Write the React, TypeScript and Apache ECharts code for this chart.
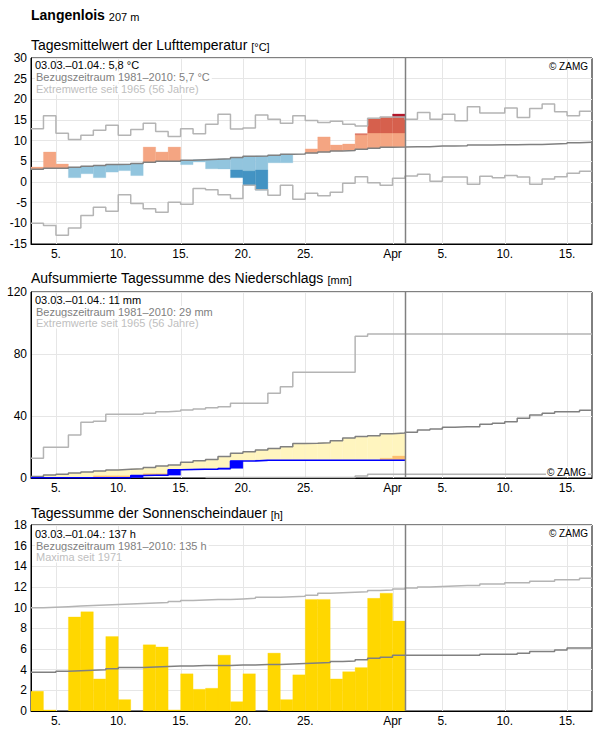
import React, { useEffect, useRef } from 'react';
import * as echarts from 'echarts';

const FONT = '"Liberation Sans", Arial, Helvetica, sans-serif';

// x axis: day index, 0 = 3 March ... 45 = 17 April (each day spans [d, d+1])
const X_MAX = 45;
const PERIOD_END = 30; // end of 1 April
const xTickDays = [2, 7, 12, 17, 22, 29, 33, 38, 43];
const xTickLabels = ['5.', '10.', '15.', '20.', '25.', 'Apr', '5.', '10.', '15.'];

// ---------- Temperature (°C) ----------
const tempNorm = [3.1, 3.3, 3.3, 3.55, 3.8, 4.0, 4.25, 4.3, 4.5, 4.75, 5.0, 5.0, 5.25, 5.4, 5.5, 5.6, 5.95, 6.2, 6.3, 6.5,
  6.7, 6.8, 7.0, 7.25, 7.5, 7.65, 7.9, 8.15, 8.4, 8.45, 8.55, 8.55, 8.7, 8.7, 8.75, 8.95, 8.95, 9.0, 9.0, 9.05,
  9.1, 9.2, 9.3, 9.5, 9.6];
const tempObs = [3.6, 7.25, 4.35, 1.05, 2.0, 1.05, 2.4, 2.75, 1.55, 8.45, 7.25, 8.45, 4.2, 4.85, 3.2, 3.15, 1.05, -0.75, -1.95, 4.65,
  4.65, 6.8, 8.0, 10.9, 8.95, 9.2, 11.7, 15.4, 15.65, 16.45];
const tempWarmLimit = [null, null, null, null, null, null, null, null, null, null, null, null, null, null, null, null, null, null, null, null,
  null, null, null, null, null, null, 11.45, 11.85, 11.85, 11.85];
const tempHotLimit = [null, null, null, null, null, null, null, null, null, null, null, null, null, null, null, null, null, null, null, null,
  null, null, null, null, null, null, null, null, null, 15.65];
const tempColdLimit = [null, null, null, null, null, null, null, null, null, null, null, null, null, null, null, null, 2.9, 2.65, 2.9, null,
  null, null, null, null, null, null, null, null, null, null];
const tempUpperExt = [12.9, 16.0, 11.8, 10.3, 11.3, 12.5, 13.7, 11.3, 12.7, 14.2, 12.2, 11.0, 12.9, 11.7, 14.0, 16.4, 12.8, 13.05, 16.2, 15.2,
  14.2, 16.0, 14.85, 14.4, 14.7, 13.95, 13.55, 15.4, 15.7, 15.7, 15.2, 16.8, 15.2, 16.4, 14.8, 18.2, 16.7, 16.7, 17.9, 15.6,
  17.8, 18.9, 17.0, 16.0, 17.1];
const tempLowerExt = [-10.0, -10.5, -12.9, -11.1, -8.1, -6.1, -7.1, -3.1, -5.2, -6.5, -7.3, -4.9, -5.4, -1.6, -1.9, -3.1, -4.0, -0.8, -1.9, -3.2,
  -0.8, -4.2, -2.7, -3.3, -2.5, -0.3, 1.3, -0.2, -0.8, 0.9, 1.45, 1.9, 0.17, 1.2, 1.2, -0.55, 1.4, 1.0, 1.6, 1.2,
  -0.55, 0.7, 1.3, 2.1, 2.6];

// ---------- Precipitation, cumulative (mm) ----------
const precipNorm = [0.9, 1.9, 2.4, 3.2, 3.9, 4.5, 5.2, 5.6, 6.0, 6.7, 7.7, 8.4, 10.1, 11.2, 12.0, 13.8, 15.9, 17.0, 18.1, 19.1,
  20.2, 22.2, 22.4, 22.8, 24.1, 25.8, 26.7, 27.3, 28.6, 29.0, 29.5, 31.0, 31.6, 32.7, 33.1, 33.1, 34.6, 35.3, 36.3, 38.5,
  40.6, 41.7, 42.8, 42.8, 43.7];
const precipObs = [0.2, 0.2, 0.2, 0.2, 0.2, 0.2, 0.2, 0.2, 1.6, 1.7, 1.8, 5.4, 5.5, 5.6, 5.6, 6.2, 11.0, 11.0, 11.4, 11.4,
  11.4, 11.4, 11.4, 11.4, 11.4, 11.4, 11.4, 11.4, 11.4, 11.4];
const precipDryLimit = [null, null, null, null, null, 1.4, 1.4, 1.4, null, 2.8, 2.8, null, null, null, null, null, null, null, null, null,
  null, null, null, null, null, null, null, null, 12.7, 14.2];
const precipUpperExt = [12.7, 19.8, 19.8, 27.7, 35.9, 36.6, 41.1, 41.1, 41.1, 41.7, 42.8, 43.2, 43.9, 44.5, 45.4, 46.0, 48.2, 48.2, 48.2, 54.6,
  58.9, 68.2, 68.2, 68.2, 68.2, 68.2, 91.4, 92.9, 92.9, 92.9, 92.9, 92.9, 92.9, 92.9, 92.9, 92.9, 92.9, 92.9, 92.9, 92.9,
  92.9, 92.9, 92.9, 92.9, 92.9];
const precipLowerExt = [null, null, null, null, null, null, null, null, null, null, null, null, null, null, 0.3, 0.3, 0.3, 0.3, 0.3, 0.3,
  0.3, 0.3, 0.3, 0.3, 0.3, 0.3, 1.3, 2.4, 2.4, 2.4, 2.4, 2.4, 2.4, 2.4, 2.4, 2.4, 2.4, 2.4, 2.4, 2.4,
  2.4, 2.4, 2.4, 2.4, 2.4];

// ---------- Sunshine (h) ----------
const sunObs = [1.9, 0.1, 0, 9.1, 9.6, 3.1, 7.2, 1.1, 0, 6.4, 6.2, 0.1, 3.6, 2.1, 2.2, 5.4, 0.9, 3.6, 0, 5.6,
  1.1, 3.5, 10.8, 10.8, 3.1, 3.8, 4.2, 10.9, 11.4, 8.7];
const sunNorm = [3.75, 3.75, 3.85, 3.9, 3.95, 4.0, 4.1, 4.2, 4.2, 4.25, 4.3, 4.35, 4.35, 4.4, 4.4, 4.4, 4.45, 4.45, 4.5, 4.5,
  4.55, 4.6, 4.65, 4.7, 4.8, 4.85, 4.95, 5.1, 5.2, 5.4, 5.4, 5.4, 5.4, 5.4, 5.4, 5.4, 5.5, 5.5, 5.5, 5.6,
  5.75, 5.75, 5.9, 6.1, 6.1];
const sunMax = [10.0, 10.05, 10.1, 10.15, 10.2, 10.25, 10.3, 10.35, 10.4, 10.45, 10.5, 10.6, 10.7, 10.75, 10.8, 10.8, 10.85, 10.9, 11.0, 11.0,
  11.05, 11.1, 11.2, 11.4, 11.45, 11.5, 11.55, 11.65, 11.7, 11.8, 11.9, 12.0, 12.05, 12.1, 12.15, 12.15, 12.3, 12.3, 12.4, 12.4,
  12.55, 12.55, 12.7, 12.7, 12.85];

// ---------- texts ----------
const header = 'Langenlois';
const headerSub = '207 m';
const panelTitles = [
  ['Tagesmittelwert der Lufttemperatur', '[°C]'],
  ['Aufsummierte Tagessumme des Niederschlags', '[mm]'],
  ['Tagessumme der Sonnenscheindauer', '[h]'],
];
const panelNotes = [
  ['03.03.–01.04.: 5,8 °C', 'Bezugszeitraum 1981–2010: 5,7 °C', 'Extremwerte seit 1965 (56 Jahre)'],
  ['03.03.–01.04.: 11 mm', 'Bezugszeitraum 1981–2010: 29 mm', 'Extremwerte seit 1965 (56 Jahre)'],
  ['03.03.–01.04.: 137 h', 'Bezugszeitraum 1981–2010: 135 h', 'Maxima seit 1971'],
];
const yRanges = [
  { min: -15, max: 30, interval: 5 },
  { min: 0, max: 120, interval: 40 },
  { min: 0, max: 18, interval: 2 },
];

const C = {
  grid: '#e6e6e6',
  norm: '#808080',
  ext: '#b4b4b4',
  warm1: '#f4a582',
  warm2: '#d6604d',
  warm3: '#b2182b',
  cold1: '#92c5de',
  cold2: '#4393c3',
  dryFill: '#fff5bf',
  dryStrong: '#fdbf6f',
  rain: '#0000ff',
  sun: '#ffd700',
};

const GRID_LEFT = 31;
const GRID_W = 561;
const GRID_H = 186;
const GRID_TOPS = [58, 292, 525];

type Seg = [number, number, number, string];

function rectSeries(idx: number, items: Seg[], z = 2) {
  return {
    type: 'custom',
    xAxisIndex: idx,
    yAxisIndex: idx,
    z,
    silent: true,
    clip: true,
    data: items.map((it) => [it[0], it[1], it[2]]),
    encode: { x: 0, y: [1, 2] },
    renderItem: (params: any, api: any) => {
      const d = api.value(0);
      const lo = api.value(1);
      const hi = api.value(2);
      const p0 = api.coord([d, hi]);
      const p1 = api.coord([d + 1, lo]);
      const color = items[params.dataIndex][3];
      return {
        type: 'rect',
        shape: { x: p0[0], y: p0[1], width: p1[0] - p0[0], height: p1[1] - p0[1] },
        style: { fill: color, stroke: color, lineWidth: 0.3 },
      };
    },
  };
}

function vLineSeries(idx: number, days: number[], color: string, width: number, z: number) {
  return {
    type: 'custom',
    xAxisIndex: idx,
    yAxisIndex: idx,
    z,
    silent: true,
    data: days.map((d) => [d, yRanges[idx].min]),
    encode: { x: 0, y: 1 },
    renderItem: (params: any, api: any) => {
      const x = api.coord([api.value(0), api.value(1)])[0];
      const cs = params.coordSys;
      const xx = Math.round(x) + 0.5;
      return {
        type: 'line',
        shape: { x1: xx, y1: cs.y, x2: xx, y2: cs.y + cs.height },
        style: { stroke: color, lineWidth: width },
      };
    },
  };
}

function stepLine(idx: number, values: (number | null)[], color: string, width = 1.5, z = 3) {
  const data: any[] = values.map((v, i) => [i, v == null ? '-' : v]);
  data.push([values.length, values[values.length - 1] == null ? '-' : values[values.length - 1]]);
  return {
    type: 'line',
    xAxisIndex: idx,
    yAxisIndex: idx,
    data,
    step: 'end',
    showSymbol: false,
    symbol: 'none',
    silent: true,
    connectNulls: false,
    z,
    clip: true,
    emphasis: { disabled: true },
    lineStyle: { color, width },
  };
}

function buildOption() {
  // temperature segments
  const tempSegs: Seg[] = [];
  tempObs.forEach((obs, d) => {
    const norm = tempNorm[d];
    if (obs > norm) {
      const w = tempWarmLimit[d];
      const h = tempHotLimit[d];
      tempSegs.push([d, norm, w != null ? Math.min(obs, w) : obs, C.warm1]);
      if (w != null && obs > w) {
        tempSegs.push([d, w, h != null ? Math.min(obs, h) : obs, C.warm2]);
        if (h != null && obs > h) tempSegs.push([d, h, obs, C.warm3]);
      }
    } else if (obs < norm) {
      const c = tempColdLimit[d];
      tempSegs.push([d, c != null ? Math.max(obs, c) : obs, norm, C.cold1]);
      if (c != null && obs < c) tempSegs.push([d, obs, c, C.cold2]);
    }
  });

  // precipitation segments
  const precipSegs: Seg[] = [];
  precipObs.forEach((obs, d) => {
    const norm = precipNorm[d];
    if (norm > obs) precipSegs.push([d, obs, norm, C.dryFill]);
  });
  precipObs.forEach((obs, d) => {
    const dl = precipDryLimit[d];
    if (dl != null && dl > obs) precipSegs.push([d, obs, dl, C.dryStrong]);
  });
  precipObs.forEach((obs, d) => {
    const prev = d > 0 ? precipObs[d - 1] : 0;
    if (obs > prev) precipSegs.push([d, prev, obs, C.rain]);
  });

  const sunSegs: Seg[] = [];
  sunObs.forEach((v, d) => {
    if (v > 0) sunSegs.push([d, 0, v, C.sun]);
  });

  const grids = GRID_TOPS.map((top) => ({
    left: GRID_LEFT,
    top,
    width: GRID_W,
    height: GRID_H,
    show: true,
    borderColor: '#000',
    borderWidth: 1,
    backgroundColor: 'transparent',
  }));

  const xAxes = [0, 1, 2].map((i) => ({
    type: 'value',
    gridIndex: i,
    min: 0,
    max: X_MAX,
    interval: 1,
    axisLine: { show: true, onZero: false, lineStyle: { color: '#000', width: 1 } },
    axisTick: { show: false },
    splitLine: { show: false },
    axisLabel: {
      color: '#000',
      fontSize: 12,
      fontFamily: FONT,
      margin: 4,
      formatter: (v: number) => {
        const k = xTickDays.indexOf(Math.round(v));
        return k >= 0 ? xTickLabels[k] : '';
      },
    },
  }));

  const yAxes = yRanges.map((r, i) => ({
    type: 'value',
    gridIndex: i,
    min: r.min,
    max: r.max,
    interval: r.interval,
    axisLine: { show: true, onZero: false, lineStyle: { color: '#000', width: 1 } },
    axisTick: { show: false },
    splitLine: { show: true, lineStyle: { color: C.grid, width: 1 } },
    axisLabel: { color: '#000', fontSize: 12, fontFamily: FONT, margin: 4 },
  }));

  const series: any[] = [];
  for (let i = 0; i < 3; i++) series.push(vLineSeries(i, xTickDays, C.grid, 1, 1));

  series.push(rectSeries(0, tempSegs));
  series.push(stepLine(0, tempUpperExt, C.ext));
  series.push(stepLine(0, tempLowerExt, C.ext));
  series.push(stepLine(0, tempNorm, C.norm));

  series.push(rectSeries(1, precipSegs));
  series.push(stepLine(1, precipUpperExt, C.ext));
  series.push(stepLine(1, precipLowerExt, C.ext));
  series.push(stepLine(1, precipNorm, C.norm));
  series.push(stepLine(1, precipObs, C.rain, 1.5, 4));

  series.push(rectSeries(2, sunSegs));
  series.push(stepLine(2, sunMax, C.ext));
  series.push(stepLine(2, sunNorm, C.norm));

  for (let i = 0; i < 3; i++) series.push(vLineSeries(i, [PERIOD_END], C.norm, 1.5, 5));

  const txt = (x: number, y: number, text: string, size: number, color: string, align = 'left', bg = false) => ({
    type: 'text',
    x,
    y,
    z: 100,
    silent: true,
    style: {
      text,
      fill: color,
      font: `${size}px ${FONT}`,
      textAlign: align,
      align,
      textVerticalAlign: 'middle',
      verticalAlign: 'middle',
      ...(bg ? { backgroundColor: '#fff', padding: [0, 2, 0, 1] } : {}),
    },
  });

  const richTitle = (x: number, y: number, main: string, unit: string, mainFont: string, unitSize: number) => ({
    type: 'text',
    x,
    y,
    z: 100,
    silent: true,
    style: {
      text: `{a|${main}} {b|${unit}}`,
      font: mainFont,
      fill: '#000',
      verticalAlign: 'middle',
      textVerticalAlign: 'middle',
      rich: {
        a: { font: mainFont, fill: '#000', verticalAlign: 'bottom' },
        b: { font: `${unitSize}px ${FONT}`, fill: '#000', verticalAlign: 'bottom' },
      },
    },
  });

  const noteY = [
    [65, 77, 89],
    [300, 311.5, 323],
    [534, 545.5, 557],
  ];
  const noteColors = ['#000', '#808080', '#c0c0c0'];
  const titleY = [45, 278, 513];
  const zamgY = [66, 472, 533];

  const elements: any[] = [];
  elements.push(richTitle(31, 15, header, headerSub, `bold 14px ${FONT}`, 11));
  for (let i = 0; i < 3; i++) {
    elements.push(richTitle(31, titleY[i], panelTitles[i][0], panelTitles[i][1], `14px ${FONT}`, 11));
    for (let j = 0; j < 3; j++) {
      elements.push(txt(35, noteY[i][j], panelNotes[i][j], 11, noteColors[j], 'left', j > 0));
    }
    elements.push(txt(588, zamgY[i], '© ZAMG', 10, '#000', 'right', i === 1));
  }

  return {
    animation: false,
    backgroundColor: '#fff',
    grid: grids,
    xAxis: xAxes,
    yAxis: yAxes,
    series,
    graphic: { elements },
  };
}

export default function App() {
  const ref = useRef<HTMLDivElement>(null);
  useEffect(() => {
    document.body.style.margin = '0';
    const chart = echarts.init(ref.current as HTMLDivElement, null, { renderer: 'svg' });
    chart.setOption(buildOption() as any);
    return () => chart.dispose();
  }, []);
  return <div ref={ref} style={{ width: 596, height: 729 }} />;
}
